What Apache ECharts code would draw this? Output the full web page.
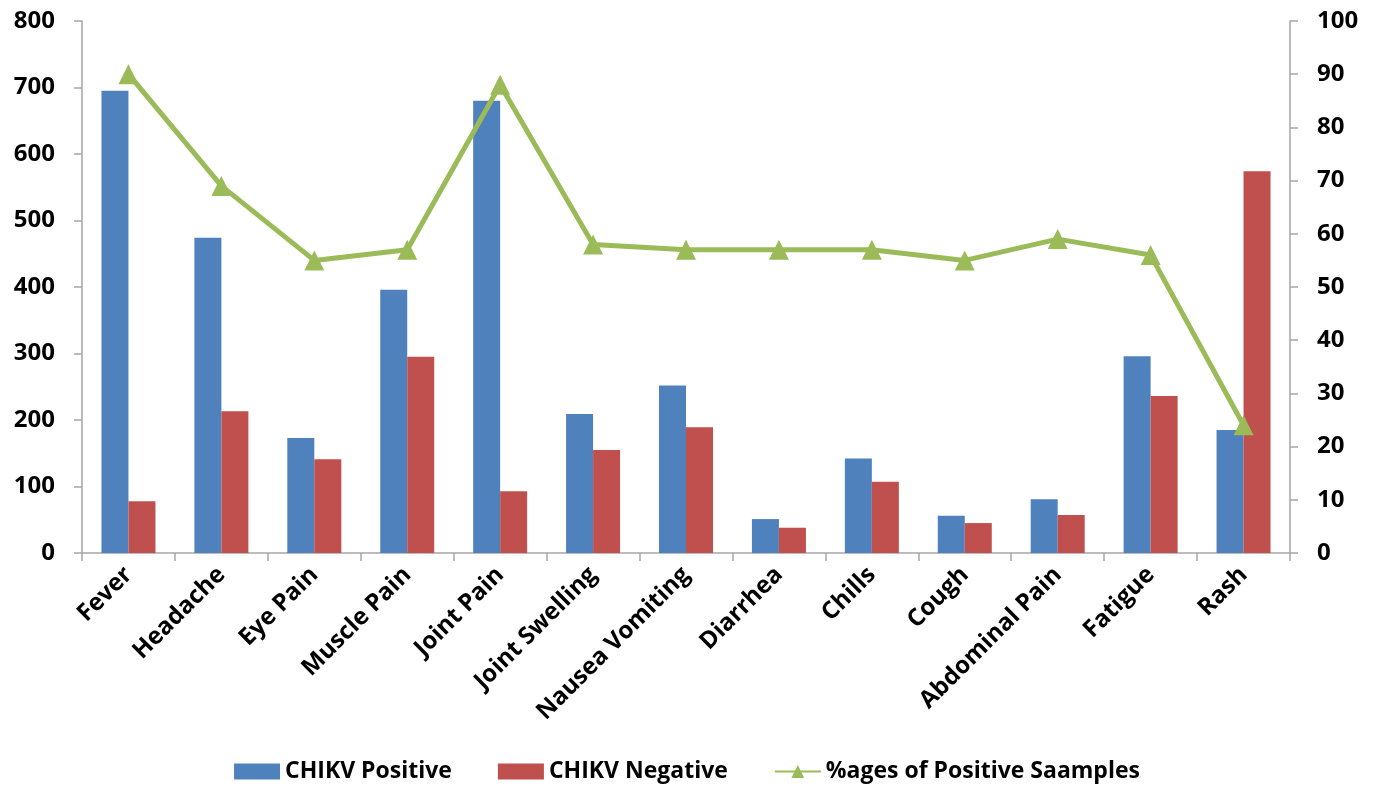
<!DOCTYPE html>
<html><head><meta charset="utf-8">
<script src="https://cdn.jsdelivr.net/npm/echarts@6/dist/echarts.min.js"></script>
<style>html,body{margin:0;padding:0;background:#fff}#c{width:1374px;height:789px}</style>
</head><body><div id="c"></div>
<script>
var categories = ["Fever","Headache","Eye Pain","Muscle Pain","Joint Pain","Joint Swelling","Nausea Vomiting","Diarrhea","Chills","Cough","Abdominal Pain","Fatigue","Rash"];
var positive = [695, 474, 173, 396, 680, 209, 252, 51, 142, 56, 81, 296, 185];
var negative = [78, 213, 141, 295, 93, 155, 189, 38, 107, 45, 57, 236, 574];
var percentPositive = [90, 69, 55, 57, 88, 58, 57, 57, 57, 55, 59, 56, 24];
var leftTicks = {min: 0, max: 800, interval: 100};
var rightTicks = {min: 0, max: 100, interval: 10};

var font = "'Open Sans', 'Liberation Sans', sans-serif";
var axisLineStyle = {color: '#a6a6a6', width: 1.5};
var chart = echarts.init(document.getElementById('c'));
chart.setOption({
  animation: false,
  grid: {left: 82, right: 84, top: 21, bottom: 236, containLabel: false},
  legend: {
    bottom: 1, left: 'center', itemGap: 46, itemWidth: 46, itemHeight: 16,
    textStyle: {fontFamily: font, fontWeight: 'bold', fontSize: 23, color: '#000'},
    data: [
      {name: 'CHIKV Positive', icon: 'rect'},
      {name: 'CHIKV Negative', icon: 'rect'},
      {name: '%ages of Positive Saamples'}
    ]
  },
  xAxis: {
    type: 'category', data: categories, boundaryGap: true,
    axisLine: {lineStyle: axisLineStyle},
    axisTick: {show: true, length: 8, lineStyle: axisLineStyle, alignWithLabel: false},
    axisLabel: {rotate: 45, interval: 0, margin: 18, fontFamily: font, fontWeight: 'bold', fontSize: 24, color: '#000'}
  },
  yAxis: [
    {type: 'value', min: leftTicks.min, max: leftTicks.max, interval: leftTicks.interval,
     splitLine: {show: false},
     axisLine: {show: true, lineStyle: axisLineStyle},
     axisTick: {show: true, length: 8, lineStyle: axisLineStyle},
     axisLabel: {margin: 27, fontFamily: font, fontWeight: 'bold', fontSize: 24, color: '#000'}},
    {type: 'value', position: 'right', min: rightTicks.min, max: rightTicks.max, interval: rightTicks.interval,
     splitLine: {show: false},
     axisLine: {show: true, lineStyle: axisLineStyle},
     axisTick: {show: true, length: 8, lineStyle: axisLineStyle},
     axisLabel: {margin: 27, fontFamily: font, fontWeight: 'bold', fontSize: 24, color: '#000'}}
  ],
  series: [
    {name: 'CHIKV Positive', type: 'bar', data: positive, barWidth: 27, barGap: '0%',
     itemStyle: {color: '#4f81bd'}},
    {name: 'CHIKV Negative', type: 'bar', data: negative, barWidth: 27, barGap: '0%',
     itemStyle: {color: '#c0504d'}},
    {name: '%ages of Positive Saamples', type: 'line', yAxisIndex: 1, data: percentPositive,
     symbol: 'triangle', symbolSize: 20, lineStyle: {color: '#9bbb59', width: 5},
     itemStyle: {color: '#9bbb59'}, z: 5}
  ]
});
</script></body></html>
